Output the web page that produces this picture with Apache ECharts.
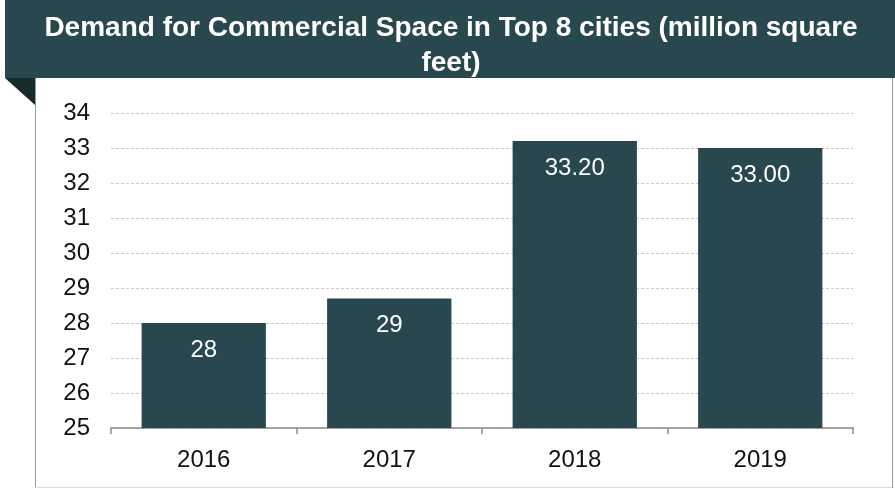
<!DOCTYPE html>
<html>
<head>
<meta charset="utf-8">
<script src="https://cdn.jsdelivr.net/npm/echarts@6/dist/echarts.min.js"></script>
<style>
  html, body { margin: 0; padding: 0; background: #fff; }
  #chart { width: 895px; height: 490px; }
</style>
</head>
<body>
<div id="chart"></div>
<script>
// data
var years = ["2016", "2017", "2018", "2019"];
var demand = [28, 28.7, 33.2, 33.0];
var barLabels = ["28", "29", "33.20", "33.00"];
var titleText = "Demand for Commercial Space in Top 8 cities (million square\nfeet)";

var dark = "#29474e";
var font = "Liberation Sans, Arial, sans-serif";
var myChart = echarts.init(document.getElementById("chart"));
var option = {
  backgroundColor: "#fff",
  animation: false,
  // banner, fold and panel border
  graphic: [
    { type: "rect", shape: { x: 5, y: 0, width: 890, height: 78 }, style: { fill: dark }, z: 0 },
    { type: "polygon", shape: { points: [[5, 78], [35, 78], [35, 105]] }, style: { fill: "#172a2e" }, z: 1 },
    { type: "line", shape: { x1: 35.5, y1: 78, x2: 35.5, y2: 488 }, style: { stroke: "#8d9ca0", lineWidth: 1 } },
    { type: "line", shape: { x1: 35, y1: 487.5, x2: 893, y2: 487.5 }, style: { stroke: "#dcdcdc", lineWidth: 1 } },
    { type: "line", shape: { x1: 892.5, y1: 78, x2: 892.5, y2: 488 }, style: { stroke: "#8d9ca0", lineWidth: 1 } }
  ],
  title: {
    text: titleText,
    left: 446,
    top: 6,
    textAlign: "center",
    textStyle: {
      color: "#fff",
      fontFamily: font,
      fontWeight: "bold",
      fontSize: 28,
      lineHeight: 35
    }
  },
  grid: { left: 111, right: 42, top: 113, bottom: 62 },
  xAxis: {
    type: "category",
    data: years,
    axisLine: { lineStyle: { color: "#8a8a8a", width: 1.5 } },
    axisTick: { show: true, length: 6, lineStyle: { color: "#8a8a8a", width: 1.5 } },
    axisLabel: { color: "#111", fontSize: 24, fontFamily: font, margin: 20 }
  },
  yAxis: {
    type: "value",
    min: 25,
    max: 34,
    interval: 1,
    axisLine: { show: false },
    axisTick: { show: false },
    axisLabel: { color: "#111", fontSize: 24, fontFamily: font, margin: 21 },
    splitLine: { lineStyle: { color: "#c8c8c8", type: [3, 2], width: 1 } }
  },
  series: [
    {
      type: "bar",
      data: demand,
      barWidth: "67%",
      itemStyle: { color: dark },
      label: {
        show: true,
        position: "insideTop",
        distance: 15,
        color: "#fff",
        fontSize: 24,
        fontFamily: font,
        formatter: function (p) { return barLabels[p.dataIndex]; }
      }
    }
  ]
};
myChart.setOption(option);
</script>
</body>
</html>
